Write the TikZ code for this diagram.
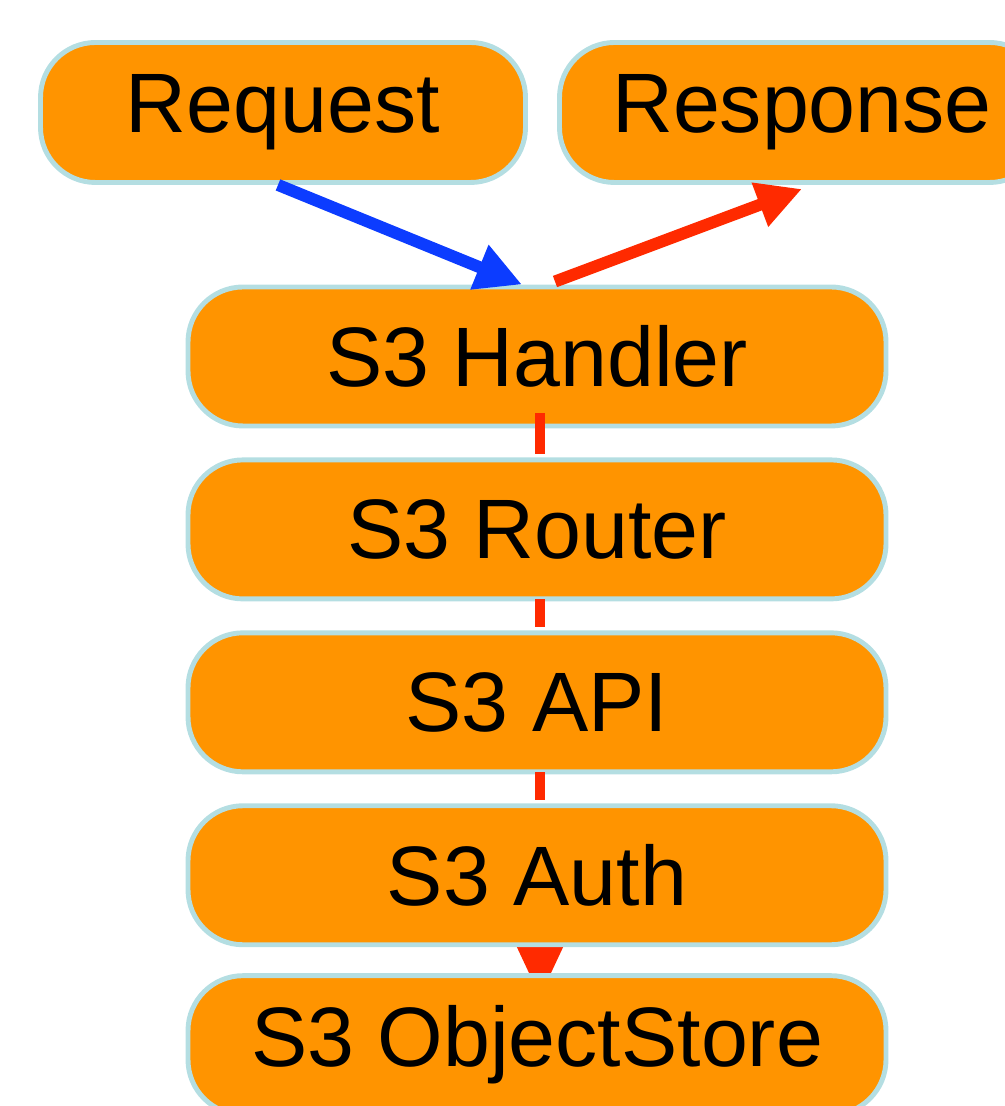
\documentclass[tikz,border=0pt]{standalone}
\usepackage{fontspec}
\setmainfont{Liberation Sans}
\usepackage{tikz}
\usetikzlibrary{arrows.meta, positioning, backgrounds}
\definecolor{sorange}{RGB}{255,148,0}
\definecolor{sedge}{RGB}{180,222,226}
\definecolor{sred}{RGB}{255,42,0}
\definecolor{sblue}{RGB}{12,60,255}

\tikzset{
  box/.style={draw=sedge, fill=sorange, line width=1.4pt, rounded corners=0.55cm,
    minimum height=1.39cm, inner sep=0pt, font=\fontsize{24}{28}\selectfont},
  endbox/.style={box, minimum width=4.85cm, minimum height=1.40cm},
  stackbox/.style={box, minimum width=6.98cm},
  bluelink/.style={draw=sblue, line width=0.12cm, -{Triangle[length=0.46cm, width=0.45cm]}},
  redlink/.style={draw=sred, line width=0.12cm, -{Triangle[length=0.45cm, width=0.44cm]}},
  downlink/.style={draw=sred, line width=0.10cm}
}

\begin{document}
\begin{tikzpicture}[x=1cm, y=1cm]
\useasboundingbox (0,0) rectangle (10.05,11.06);
% request / response
\node[endbox] (req) at (2.83,9.935) {Request};
\node[endbox] (resp) at (8.02,9.935) {Response};
% the S3 stack
\node[stackbox] (handler) at (5.37,7.495) {S3 Handler};
\node[stackbox, below=0.29cm of handler] (router) {S3 Router};
\node[stackbox, below=0.29cm of router] (api) {S3 API};
\node[stackbox, below=0.29cm of api] (auth) {S3 Auth};
\node[stackbox, below=0.26cm of auth] (store) {S3 ObjectStore};
% flow
\draw[bluelink] ([xshift=-0.05cm]req.south) -- ([xshift=-0.15cm]handler.north);
\draw[redlink] ([xshift=0.18cm,yshift=0.03cm]handler.north) -- ([yshift=-0.04cm]resp.south);
\draw[downlink] ([xshift=0.03cm,yshift=0.15cm]handler.south) -- ([xshift=0.03cm,yshift=0.03cm]router.north);
\draw[downlink] ([xshift=0.03cm,yshift=0.02cm]router.south) -- ([xshift=0.03cm,yshift=0.03cm]api.north);
\draw[downlink] ([xshift=0.03cm,yshift=0.02cm]api.south) -- ([xshift=0.03cm,yshift=0.03cm]auth.north);
\begin{scope}[on background layer]
\draw[downlink, -{Triangle[length=0.52cm, width=0.45cm]}] ([xshift=0.03cm]auth.south) -- ([xshift=0.03cm,yshift=-0.24cm]store.north);
\end{scope}
\end{tikzpicture}
\end{document}
